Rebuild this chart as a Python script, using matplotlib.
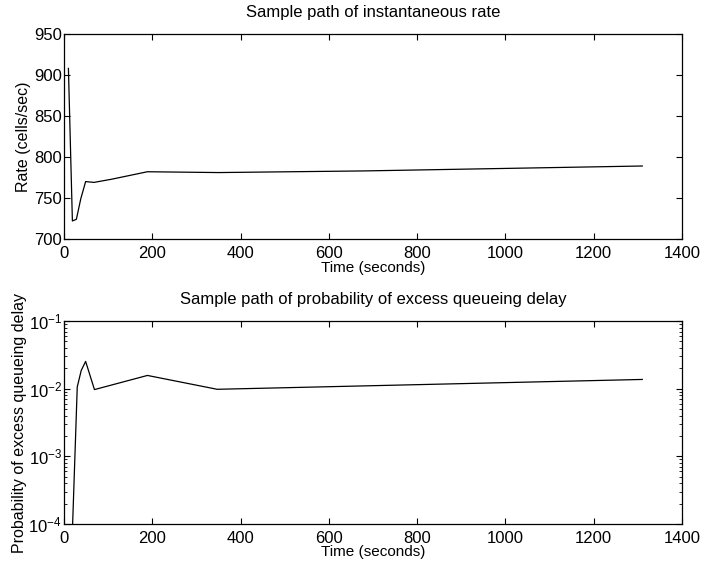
import matplotlib
matplotlib.use("Agg")
import matplotlib.pyplot as plt
from matplotlib.ticker import LogLocator

plt.rcParams['font.family'] = ['Liberation Sans', 'DejaVu Sans']
plt.rcParams['mathtext.fontset'] = 'custom'
plt.rcParams['mathtext.rm'] = 'Liberation Sans'
plt.rcParams['mathtext.it'] = 'Liberation Sans'

# Sample path of instantaneous rate
t_rate = [10, 19, 28, 38, 49, 68, 109, 189, 350, 680, 1310]
rate = [908, 722, 724, 749, 770, 769, 773, 782, 781, 783, 789]

# Sample path of probability of excess queueing delay
t_prob = [18, 30, 39, 49, 69, 189, 347, 1310]
prob = [5e-5, 0.0106, 0.0186, 0.0253, 0.0097, 0.0157, 0.0098, 0.0137]

x_ticks = [0, 200, 400, 600, 800, 1000, 1200, 1400]
rate_ticks = [700, 750, 800, 850, 900, 950]


def style_axes(ax):
    # matlab-like: ticks inside, on all four sides
    ax.tick_params(which='both', direction='in', top=True, right=True,
                   labelsize=12, colors='black')
    ax.tick_params(which='major', length=4, width=0.8)
    ax.tick_params(which='minor', length=2, width=0.6)
    ax.tick_params(axis='x', pad=5)
    ax.tick_params(axis='y', pad=1.5)
    for spine in ax.spines.values():
        spine.set_linewidth(0.9)


fig = plt.figure(figsize=(7.01, 5.67), dpi=100)

ax1 = fig.add_axes([0.0913, 0.5785, 0.8816, 0.3616])
ax1.plot(t_rate, rate, color='black', linewidth=0.9)
ax1.set_xlim(0, 1400)
ax1.set_ylim(700, 950)
ax1.set_xticks(x_ticks)
ax1.set_yticks(rate_ticks)
style_axes(ax1)
ax1.set_title("Sample path of instantaneous rate", fontsize=12, pad=12)
ax1.set_xlabel("Time (seconds)", fontsize=11, labelpad=0)
ax1.set_ylabel("Rate (cells/sec)", fontsize=11.5, labelpad=2)

ax2 = fig.add_axes([0.0913, 0.0758, 0.8816, 0.358])
ax2.plot(t_prob, prob, color='black', linewidth=0.9)
ax2.set_yscale('log')
ax2.set_xlim(0, 1400)
ax2.set_ylim(1e-4, 1e-1)
ax2.set_xticks(x_ticks)
ax2.yaxis.set_major_locator(LogLocator(base=10, numticks=10))
ax2.yaxis.set_minor_locator(LogLocator(base=10, subs=range(2, 10), numticks=10))
style_axes(ax2)
ax2.set_title("Sample path of probability of excess queueing delay", fontsize=12, pad=12)
ax2.set_xlabel("Time (seconds)", fontsize=11, labelpad=-1)
ax2.set_ylabel("Probability of excess queueing delay", fontsize=11.5, labelpad=1)

fig.savefig("out.png", dpi=100, facecolor='white')
